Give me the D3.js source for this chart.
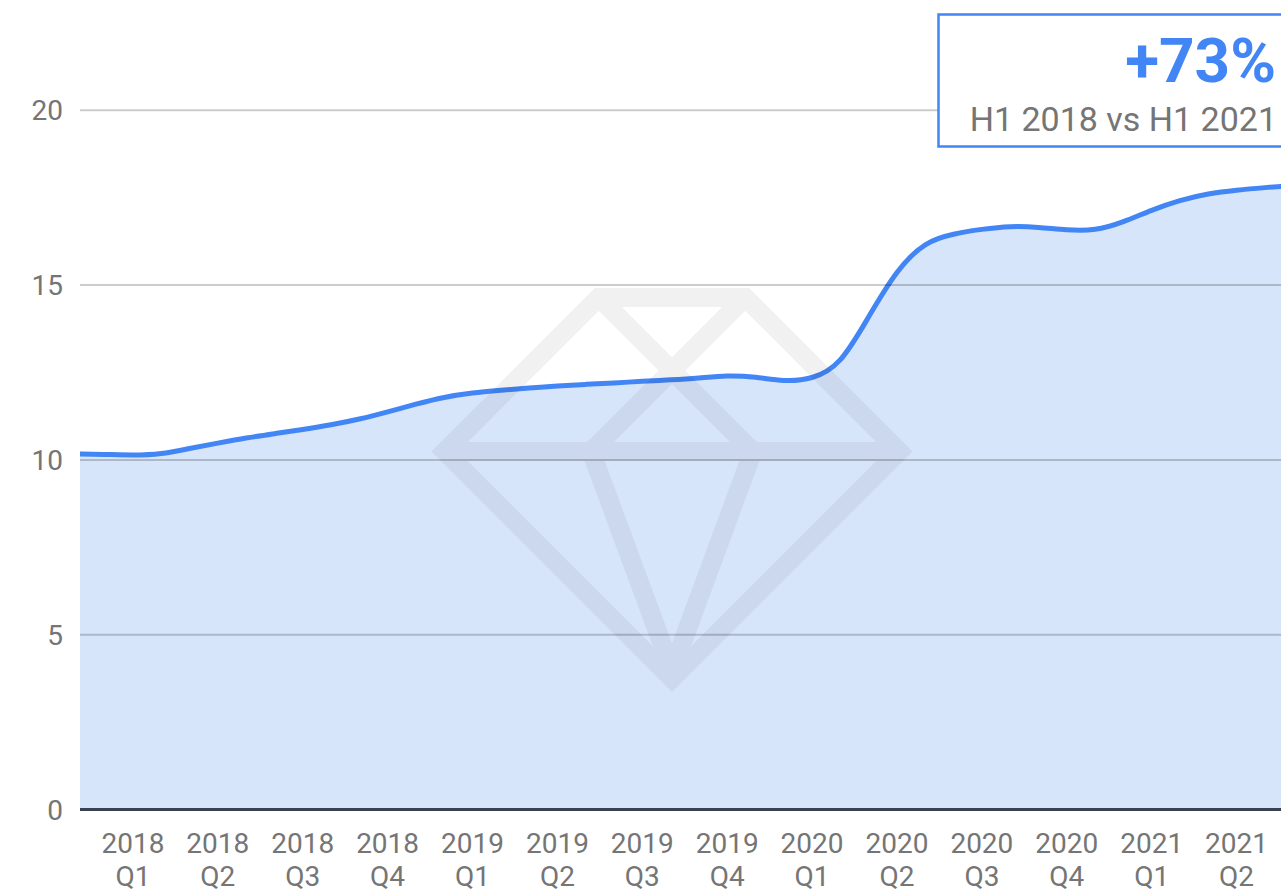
<!DOCTYPE html>
<html>
<head>
<meta charset="utf-8">
<script src="https://cdn.jsdelivr.net/npm/d3@7"></script>
<style>
  html, body { margin: 0; padding: 0; background: #fff; }
  svg { display: block; font-family: Roboto, sans-serif; }
</style>
</head>
<body>
<svg></svg>
<script>
const width = 1281;
const height = 896;

// quarter labels (placed at the middle month of each quarter)
const years = ["2018", "2018", "2018", "2018", "2019", "2019", "2019", "2019",
  "2020", "2020", "2020", "2020", "2021", "2021"];
const quarters = ["Q1", "Q2", "Q3", "Q4", "Q1", "Q2", "Q3", "Q4",
  "Q1", "Q2", "Q3", "Q4", "Q1", "Q2"];

// monthly values, Dec 2017 .. Jul 2021 (month index -1 .. 42, 0 = Jan 2018)
const months = d3.range(-1, 43);
const values = [10.17, 10.16, 10.13, 10.16, 10.33, 10.48, 10.63, 10.75, 10.87, 11.0,
  11.16, 11.37, 11.6, 11.8, 11.92, 11.99, 12.06, 12.12, 12.16, 12.2,
  12.25, 12.29, 12.34, 12.42, 12.38, 12.24, 12.3, 12.7, 14.1, 15.45,
  16.25, 16.47, 16.6, 16.69, 16.66, 16.57, 16.55, 16.8, 17.15, 17.43,
  17.62, 17.72, 17.79, 17.85];

const yTicks = [0, 5, 10, 15, 20];

const callout = { big: "+73%", small: "H1 2018 vs H1 2021" };

const svg = d3.select("svg").attr("width", width).attr("height", height);

// scales
const x = d3.scaleLinear().domain([-0.87, 41.57]).range([80, 1281]);
const y = d3.scaleLinear().domain([0, 20]).range([809.5, 110.3]);

const data = months.map((m, i) => ({ m: m, v: values[i] }));

svg.append("defs").append("clipPath").attr("id", "plot")
  .append("rect").attr("x", 80).attr("y", 0).attr("width", width - 80).attr("height", 812);

const plot = svg.append("g").attr("clip-path", "url(#plot)");

//area
const area = d3.area()
  .x((d) => x(d.m))
  .y0(y(0))
  .y1((d) => y(d.v))
  .curve(d3.curveBasis);

plot.append("path")
  .datum(data)
  .attr("d", area)
  .attr("fill", "#d7e5fb");

//watermark diamond
const wmX = 672;
const wmTop = 297.5, wmGirdle = 451.5, wmBottom = 678.6;
const halfTop = 73.1, halfWide = 227.1;
const wm = d3.path();
wm.moveTo(wmX - halfTop, wmTop);
wm.lineTo(wmX + halfTop, wmTop);
wm.lineTo(wmX + halfWide, wmGirdle);
wm.lineTo(wmX, wmBottom);
wm.lineTo(wmX - halfWide, wmGirdle);
wm.closePath();
wm.moveTo(wmX - halfWide, wmGirdle);
wm.lineTo(wmX + halfWide, wmGirdle);
// crown cross
wm.moveTo(wmX - halfTop, wmTop);
wm.lineTo(wmX - halfTop + (wmGirdle - wmTop), wmGirdle);
wm.moveTo(wmX + halfTop, wmTop);
wm.lineTo(wmX + halfTop - (wmGirdle - wmTop), wmGirdle);
// pavilion facets
wm.moveTo(wmX - halfTop + (wmGirdle - wmTop), wmGirdle);
wm.lineTo(wmX, wmBottom - 8);
wm.moveTo(wmX + halfTop - (wmGirdle - wmTop), wmGirdle);
wm.lineTo(wmX, wmBottom - 8);

svg.append("path")
  .attr("d", wm.toString())
  .attr("fill", "none")
  .attr("stroke", "#000")
  .attr("stroke-opacity", 0.055)
  .attr("stroke-width", 19)
  .attr("stroke-linejoin", "miter");

//grid
svg.append("g")
  .selectAll("line")
  .data(yTicks.filter((d) => d > 0))
  .enter()
  .append("line")
  .attr("x1", 80)
  .attr("x2", width)
  .attr("y1", (d) => y(d))
  .attr("y2", (d) => y(d))
  .attr("stroke", "#000")
  .attr("stroke-opacity", 0.2)
  .attr("stroke-width", 2);

//baseline
svg.append("line")
  .attr("x1", 80)
  .attr("x2", width)
  .attr("y1", y(0))
  .attr("y2", y(0))
  .attr("stroke", "#37414f")
  .attr("stroke-width", 3);

//line
const line = d3.line()
  .x((d) => x(d.m))
  .y((d) => y(d.v))
  .curve(d3.curveBasis);

plot.append("path")
  .datum(data)
  .attr("d", line)
  .attr("fill", "none")
  .attr("stroke", "#4285f4")
  .attr("stroke-width", 5)
  .attr("stroke-linejoin", "round");

//y labels
svg.append("g")
  .selectAll("text")
  .data(yTicks)
  .enter()
  .append("text")
  .attr("x", 63)
  .attr("y", (d) => y(d) + 10)
  .attr("text-anchor", "end")
  .attr("font-size", 28)
  .attr("fill", "#757575")
  .text((d) => d);

//x labels
const xl = svg.append("g")
  .selectAll("text")
  .data(years)
  .enter()
  .append("text")
  .attr("text-anchor", "middle")
  .attr("font-size", 28)
  .attr("fill", "#757575");

xl.append("tspan")
  .attr("x", (d, i) => x(i * 3 + 1))
  .attr("y", 853)
  .text((d) => d);
xl.append("tspan")
  .attr("x", (d, i) => x(i * 3 + 1))
  .attr("y", 886)
  .text((d, i) => quarters[i]);

//callout box
svg.append("rect")
  .attr("x", 938.5)
  .attr("y", 14.5)
  .attr("width", 400)
  .attr("height", 132)
  .attr("fill", "#fff")
  .attr("stroke", "#4285f4")
  .attr("stroke-width", 2.5);

svg.append("text")
  .attr("x", 1276)
  .attr("y", 82)
  .attr("text-anchor", "end")
  .attr("font-size", 62)
  .attr("font-weight", 700)
  .attr("fill", "#4285f4")
  .text(callout.big);

svg.append("text")
  .attr("x", 1277)
  .attr("y", 131)
  .attr("text-anchor", "end")
  .attr("font-size", 34)
  .attr("fill", "#757575")
  .text(callout.small);
</script>
</body>
</html>
